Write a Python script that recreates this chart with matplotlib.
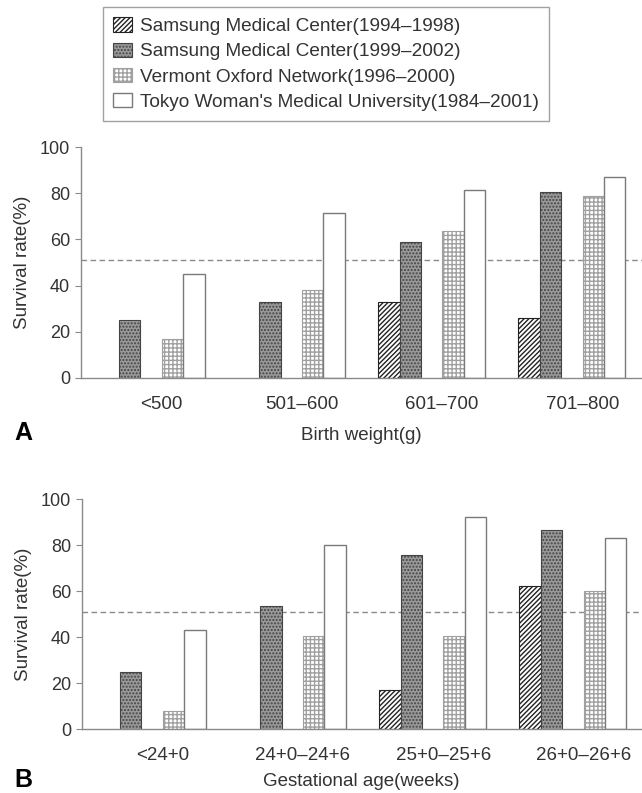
import numpy as np
import matplotlib
matplotlib.use("Agg")
import matplotlib.pyplot as plt
from matplotlib.patches import Patch

plt.rcParams['font.family'] = ['Liberation Sans', 'DejaVu Sans']
plt.rcParams['hatch.linewidth'] = 1.0

series = ["Samsung Medical Center(1994\u20131998)",
          "Samsung Medical Center(1999\u20132002)",
          "Vermont Oxford Network(1996\u20132000)",
          "Tokyo Woman's Medical University(1984\u20132001)"]

cats_a = ["<500", "501\u2013600", "601\u2013700", "701\u2013800"]
smc1_a = [np.nan, np.nan, 33, 26]
smc2_a = [25, 33, 59, 80.5]
von_a = [17, 38, 63.5, 79]
tokyo_a = [45, 71.5, 81.5, 87]
ref_a = 51

cats_b = ["<24+0", "24+0\u201324+6", "25+0\u201325+6", "26+0\u201326+6"]
smc1_b = [np.nan, np.nan, 17, 62.5]
smc2_b = [25, 53.5, 76, 86.5]
von_b = [8, 40.5, 40.5, 60]
tokyo_b = [43, 80, 92.5, 83]
ref_b = 51

TXT = '#333333'
AX = '#8a8a8a'

styles = [
    dict(facecolor='white', edgecolor='#222222', hatch='///////', linewidth=0.8),
    dict(facecolor='#9a9a9a', edgecolor='#444444', hatch='.....', linewidth=0.8),
    dict(facecolor='white', edgecolor='#a0a0a0', hatch='++++', linewidth=0.8),
    dict(facecolor='white', edgecolor='#7a7a7a', hatch=None, linewidth=1.0),
]

W = 0.1525
offsets = [-2 * W, -W, W, 2 * W]

fig = plt.figure(figsize=(6.42, 7.93), dpi=100)


def panel(rect, cats, data, ref, xlabel, letter, letter_y, xlabel_y):
    ax = fig.add_axes(rect)
    x = np.arange(len(cats)) + 0.5
    for vals, off, st in zip(data, offsets, styles):
        ax.bar(x + off, vals, width=W, **st)
    ax.axhline(ref, color='#8a8a8a', linestyle=(0, (4, 2.5)), linewidth=1.0, zorder=0)
    ax.set_xlim(0, 4)
    ax.set_ylim(0, 100)
    ax.set_yticks([0, 20, 40, 60, 80, 100])
    ax.set_xticks(x + 0.075)
    ax.set_xticklabels(cats)
    for s in ['top', 'right']:
        ax.spines[s].set_visible(False)
    for s in ['left', 'bottom']:
        ax.spines[s].set_color(AX)
        ax.spines[s].set_linewidth(1.0)
    ax.tick_params(axis='y', length=4, color=AX, labelsize=13, labelcolor=TXT, pad=4)
    ax.tick_params(axis='x', length=0, labelsize=13.5, labelcolor=TXT, pad=13)
    ax.set_ylabel("Survival rate(%)", fontsize=13.5, color=TXT, labelpad=6)
    fig.text(361 / 642, 1 - xlabel_y / 793, xlabel, ha='center', va='center', fontsize=13.5, color=TXT)
    fig.text(23 / 642, 1 - letter_y / 793, letter, ha='center', va='center', fontsize=18,
             fontweight='bold', color='black')
    return ax


panel([81 / 642, 1 - 378 / 793, 561 / 642, 231 / 793], cats_a,
      [smc1_a, smc2_a, von_a, tokyo_a], ref_a, "Birth weight(g)", "A", 433, 435)
panel([82 / 642, 1 - 729.3 / 793, 561 / 642, 230 / 793], cats_b,
      [smc1_b, smc2_b, von_b, tokyo_b], ref_b, "Gestational age(weeks)", "B", 780, 782)

handles = [Patch(**st) for st in styles]
leg = fig.legend(handles, series, loc='upper left', bbox_to_anchor=(103 / 642, 1 - 7 / 793),
                 frameon=True, fancybox=False, fontsize=13.7, handlelength=0.95, handleheight=0.8,
                 handletextpad=0.45, labelspacing=0.38, borderpad=0.55, borderaxespad=0)
leg.get_frame().set_edgecolor('#8a8a8a')
leg.get_frame().set_linewidth(1.0)
for t in leg.get_texts():
    t.set_color(TXT)

fig.savefig("out.png", dpi=100)
